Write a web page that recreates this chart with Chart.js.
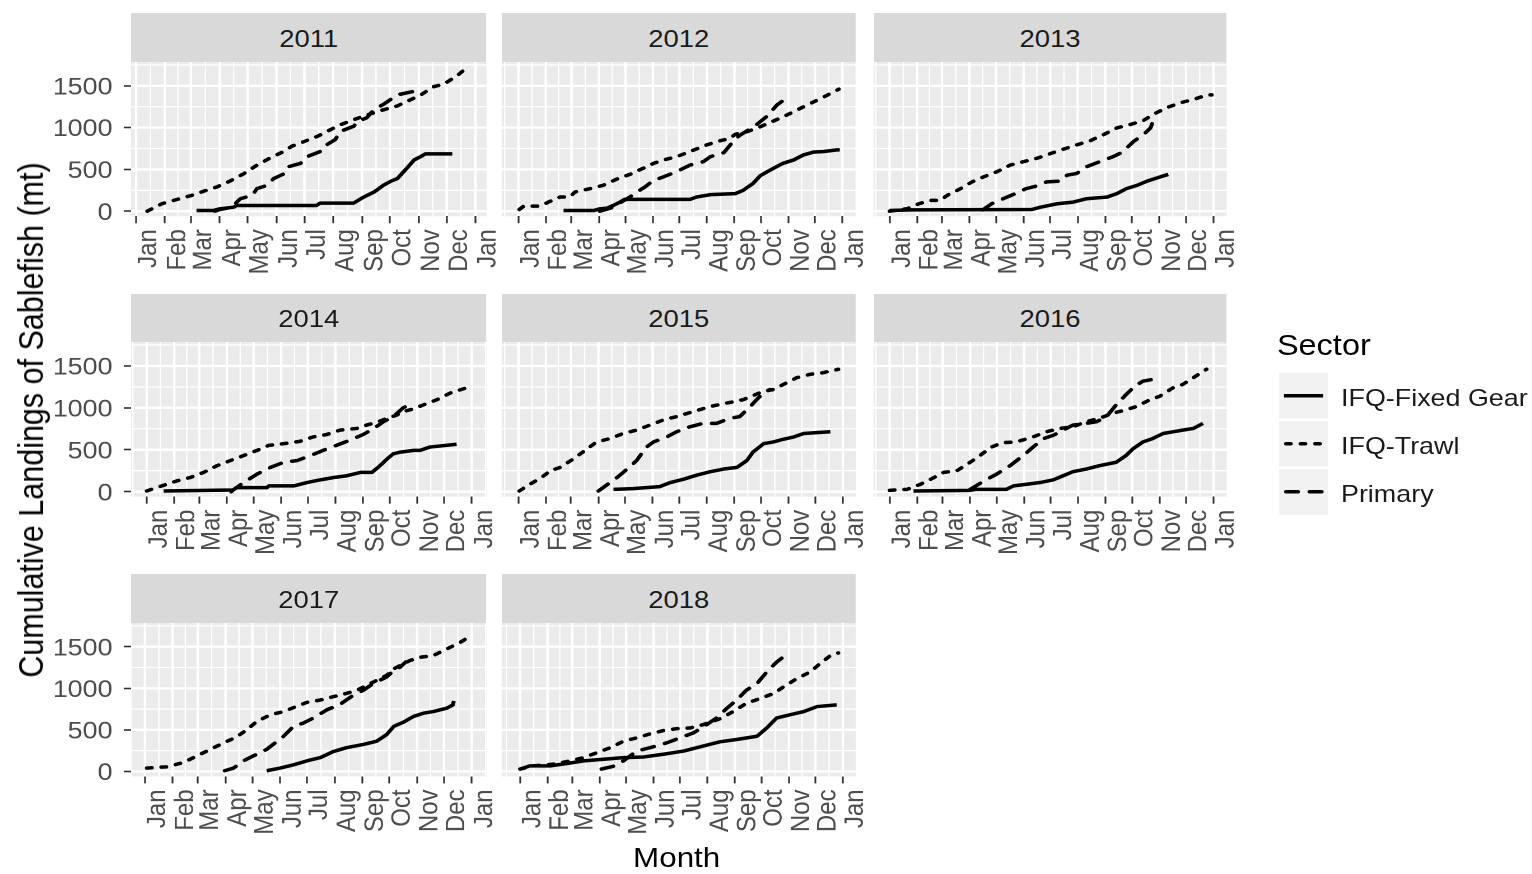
<!DOCTYPE html>
<html>
<head>
<meta charset="utf-8">
<title>Cumulative Landings of Sablefish</title>
<script src="https://cdn.jsdelivr.net/npm/chart.js@4.4.1/dist/chart.umd.min.js"></script>
<style>
  html, body { margin:0; padding:0; background:#FFFFFF; }
  body { width:1532px; height:874px; overflow:hidden; position:relative; }
  #stage { position:absolute; left:0; top:0; width:1367.86px; height:874px; transform:scaleX(1.12); transform-origin:0 0; font-family:'Liberation Sans', Arial, sans-serif; }
  .strip { position:absolute; background:#D9D9D9; }
  .lbl { position:absolute; white-space:nowrap; line-height:1; }
  canvas { position:absolute; }
</style>
</head>
<body>
<div id="stage"></div>
<script>
// ---------------- DATA ----------------
const years = [2011, 2012, 2013, 2014, 2015, 2016, 2017, 2018];
const sectors = ['IFQ-Fixed Gear', 'IFQ-Trawl', 'Primary'];
const monthLabels = ['Jan','Feb','Mar','Apr','May','Jun','Jul','Aug','Sep','Oct','Nov','Dec','Jan'];
const yTicks = [0, 500, 1000, 1500];
const yMinorTicks = [250, 750, 1250, 1750];

// [day of year, cumulative landings (mt)]
const fixedGear2011 = [[65,8],[83,8],[90,28],[105,48],[108,68],[194,68],[198,97],[234,97],[245,170],[256,230],[266,310],[274,359],[281,391],[291,512],[299,613],[306,653],[311,685],[340,685]];
const trawl2011 = [[12,0],[28,90],[44,140],[60,190],[73,240],[87,290],[101,360],[116,450],[130,550],[144,635],[157,705],[168,780],[180,830],[195,895],[209,975],[220,1035],[234,1095],[248,1150],[262,1200],[281,1260],[306,1390],[320,1490],[331,1520],[345,1620],[356,1720]];
const primary2011 = [[85,0],[90,20],[103,48],[112,149],[125,190],[130,270],[141,310],[148,391],[160,452],[164,532],[177,573],[184,653],[198,714],[202,774],[214,855],[220,956],[234,1016],[239,1077],[248,1117],[256,1218],[266,1278],[274,1339],[284,1399],[297,1430]];

const fixedGear2012 = [[51,8],[85,8],[92,28],[100,36],[107,68],[115,110],[120,141],[194,141],[201,169],[217,198],[245,210],[254,250],[265,331],[273,423],[281,472],[288,512],[299,573],[311,613],[322,673],[333,706],[345,714],[360,734],[363,734]];
const trawl2012 = [[1,20],[6,60],[24,60],[34,109],[47,169],[58,169],[64,230],[81,270],[96,310],[111,383],[126,440],[139,504],[153,573],[164,613],[179,653],[194,714],[213,794],[228,843],[239,870],[245,920],[258,950],[270,995],[292,1097],[303,1149],[320,1238],[334,1310],[348,1383],[362,1460]];
const primary2012 = [[92,0],[105,40],[118,120],[126,170],[134,230],[143,290],[153,371],[164,411],[178,470],[194,552],[209,593],[217,653],[232,700],[240,800],[249,900],[258,960],[269,1036],[281,1137],[292,1270],[301,1339]];

const fixedGear2013 = [[0,8],[25,15],[160,20],[170,48],[189,89],[207,109],[222,149],[245,169],[256,210],[267,270],[279,310],[290,359],[305,411],[314,440]];
const trawl2013 = [[0,0],[20,30],[33,89],[46,129],[57,129],[65,190],[80,270],[93,351],[106,411],[121,472],[136,552],[151,593],[166,633],[179,681],[196,742],[211,794],[226,843],[241,915],[256,996],[271,1036],[286,1085],[297,1157],[312,1238],[328,1298],[343,1339],[358,1391],[363,1391]];
const primary2013 = [[105,15],[115,89],[128,149],[139,198],[154,270],[165,300],[177,351],[192,359],[200,431],[211,452],[222,532],[237,593],[252,653],[260,694],[267,754],[275,835],[286,915],[294,996],[297,1077],[303,1137]];

const fixedGear2014 = [[19,8],[97,20],[101,48],[135,48],[137,69],[165,69],[180,109],[195,141],[210,169],[225,190],[240,230],[253,230],[262,310],[270,391],[277,452],[285,472],[300,492],[307,492],[318,532],[348,565]];
const trawl2014 = [[0,8],[17,69],[34,129],[49,169],[64,230],[79,310],[94,371],[109,431],[124,492],[137,552],[154,573],[172,600],[187,653],[202,681],[217,734],[236,754],[247,794],[258,826],[270,875],[281,915],[290,960],[300,990],[311,1036],[326,1097],[341,1177],[359,1238]];
const primary2014 = [[95,0],[97,20],[109,109],[124,210],[139,290],[154,351],[169,371],[184,431],[198,492],[213,552],[228,613],[243,681],[255,754],[266,835],[277,895],[288,1000],[290,1010]];

const fixedGear2015 = [[107,28],[129,36],[144,48],[159,60],[171,109],[186,149],[201,198],[216,238],[231,270],[246,290],[257,371],[264,472],[276,573],[287,593],[298,625],[310,653],[321,694],[351,714]];
const trawl2015 = [[1,8],[13,89],[26,169],[36,250],[47,290],[62,391],[75,492],[88,593],[103,633],[118,694],[133,734],[148,794],[163,855],[178,895],[197,956],[216,1016],[234,1056],[253,1097],[265,1150],[276,1198],[287,1218],[298,1278],[313,1359],[328,1399],[343,1419],[360,1460]];
const primary2015 = [[90,8],[98,69],[111,169],[118,230],[133,371],[144,532],[152,593],[167,653],[178,714],[193,774],[208,815],[223,815],[238,875],[249,895],[261,1016],[268,1097],[276,1177],[283,1218]];

const fixedGear2016 = [[27,8],[91,16],[98,28],[132,28],[140,69],[155,89],[170,109],[185,141],[196,190],[207,238],[222,270],[237,310],[256,351],[267,431],[275,512],[286,593],[297,633],[309,694],[320,714],[331,734],[343,754],[354,815]];
const trawl2016 = [[0,16],[20,28],[35,89],[48,157],[61,230],[76,250],[91,351],[102,431],[115,532],[128,585],[143,593],[162,653],[177,714],[192,754],[207,774],[222,835],[237,875],[252,935],[267,976],[279,1016],[294,1097],[305,1137],[320,1238],[331,1278],[343,1359],[358,1460]];
const primary2016 = [[91,28],[110,149],[121,210],[136,310],[151,431],[162,532],[174,633],[185,673],[196,734],[207,794],[222,815],[234,835],[245,895],[256,1036],[267,1157],[277,1258],[286,1318],[297,1339]];

const fixedGear2017 = [[136,8],[151,40],[166,79],[181,127],[196,166],[210,237],[225,285],[244,324],[259,364],[270,443],[278,542],[289,594],[300,661],[311,700],[322,720],[337,760],[344,800],[345,847]];
const trawl2017 = [[2,40],[24,55],[43,107],[58,186],[73,265],[88,344],[102,412],[114,503],[125,601],[140,681],[155,720],[166,768],[181,831],[196,859],[210,898],[225,938],[237,977],[248,1037],[259,1096],[270,1155],[278,1235],[296,1334],[307,1373],[322,1393],[337,1472],[352,1551],[361,1611]];
const primary2017 = [[89,8],[99,40],[110,127],[121,186],[136,265],[143,324],[153,404],[166,542],[177,582],[188,641],[203,740],[218,807],[233,918],[244,977],[255,1057],[270,1136],[278,1215],[285,1254],[291,1314]];

const fixedGear2018 = [[0,28],[11,67],[34,67],[53,95],[72,127],[117,166],[140,174],[162,206],[185,245],[207,305],[226,356],[245,384],[268,423],[279,522],[290,641],[305,681],[321,720],[336,780],[358,800]];
const trawl2018 = [[0,28],[15,67],[38,87],[57,127],[72,166],[87,226],[102,285],[117,364],[132,404],[147,451],[162,491],[177,514],[192,522],[207,562],[226,633],[241,720],[256,819],[272,879],[287,938],[298,1017],[313,1116],[328,1195],[339,1294],[351,1393],[360,1425]];
const primary2018 = [[92,28],[105,60],[117,127],[132,245],[147,285],[166,344],[181,404],[196,463],[211,562],[222,641],[234,760],[245,859],[256,977],[268,1057],[279,1195],[290,1314],[300,1393]];

const fixedGearByYear = [fixedGear2011, fixedGear2012, fixedGear2013, fixedGear2014, fixedGear2015, fixedGear2016, fixedGear2017, fixedGear2018];
const trawlByYear = [trawl2011, trawl2012, trawl2013, trawl2014, trawl2015, trawl2016, trawl2017, trawl2018];
const primaryByYear = [primary2011, primary2012, primary2013, primary2014, primary2015, primary2016, primary2017, primary2018];

// ---------------- LAYOUT ----------------
const S = 1.12;                         // horizontal stretch of the picture
const colL = [131, 501.7, 873.3], colR = [486.5, 855.7, 1226.7];
const rowT = [62.3, 342.3, 623.3], rowB = [216.5, 497, 776.7];
const stripT = [13, 293.5, 573.5];
const panelXLimits = [[-5.4, 376.8], [-18.75, 381.1], [-18, 380.2], [-17.6, 381.6], [-18.7, 379.6], [-18.1, 381.1], [-15.6, 381.5], [-20.7, 379.7]];
const yLimits = [-60, 1785];
const LW = 3.5;
const dashes = [[], [4.5, 8.5], [11, 10]];
const caps = ['butt', 'round', 'round'];

Chart.defaults.font.family = "'Liberation Sans', Arial, sans-serif";
const stage = document.getElementById('stage');

function monthStarts(year) {
  const leap = (year % 4 === 0);
  const len = [31, leap ? 29 : 28, 31, 30, 31, 30, 31, 31, 30, 31, 30, 31];
  const out = [0];
  for (const l of len) out.push(out[out.length - 1] + l);
  return out;
}

function addText(txt, opts) {
  const d = document.createElement('div');
  d.className = 'lbl';
  d.textContent = txt;
  d.style.fontSize = opts.size + 'px';
  d.style.color = opts.color || '#000000';
  d.style.left = opts.left + 'px';
  d.style.top = opts.top + 'px';
  if (opts.width !== undefined) { d.style.width = opts.width + 'px'; d.style.textAlign = 'center'; }
  if (opts.transform) d.style.transform = opts.transform;
  stage.appendChild(d);
  return d;
}

years.forEach((year, i) => {
  const row = Math.floor(i / 3), col = i % 3;
  const ms = monthStarts(year);
  const xMinor = [-15.5];
  for (let k = 0; k < 12; k++) xMinor.push((ms[k] + ms[k + 1]) / 2);
  xMinor.push(ms[12] + 15.5);

  // strip
  const sd = document.createElement('div');
  sd.className = 'strip';
  sd.style.left = (colL[col] / S) + 'px';
  sd.style.width = ((colR[col] - colL[col]) / S) + 'px';
  sd.style.top = stripT[row] + 'px';
  sd.style.height = (rowT[row] - stripT[row]) + 'px';
  stage.appendChild(sd);

  // canvas
  const leftRef = col === 0 ? 0 : colL[col];
  const yW = col === 0 ? colL[0] / S : 0;
  const panelWU = (colR[col] - leftRef) / S;
  const cw = Math.round(panelWU + 26);
  const padR = cw - panelWU;
  const ph = rowB[row] - rowT[row];
  const ch = Math.round(ph + 74);
  const xAxisH = ch - ph;
  const cv = document.createElement('canvas');
  cv.width = cw; cv.height = ch;
  cv.style.left = (leftRef / S) + 'px';
  cv.style.top = rowT[row] + 'px';
  stage.appendChild(cv);

  const panelBg = {
    id: 'panelBg' + i,
    beforeDraw(chart) {
      const {ctx, chartArea: a} = chart;
      const xs = chart.scales.x, ys = chart.scales.y;
      ctx.save();
      ctx.fillStyle = '#EBEBEB';
      ctx.fillRect(a.left, a.top, a.right - a.left, a.bottom - a.top);
      ctx.beginPath(); ctx.rect(a.left, a.top, a.right - a.left, a.bottom - a.top); ctx.clip();
      ctx.strokeStyle = '#FFFFFF';
      const drawSet = (vals, scale, horiz, w) => {
        ctx.lineWidth = w;
        for (const v of vals) {
          const p = scale.getPixelForValue(v);
          ctx.beginPath();
          if (horiz) { ctx.moveTo(a.left, p); ctx.lineTo(a.right, p); }
          else { ctx.moveTo(p, a.top); ctx.lineTo(p, a.bottom); }
          ctx.stroke();
        }
      };
      drawSet(yMinorTicks, ys, true, 1.3);
      drawSet(xMinor, xs, false, 1.2);
      drawSet(yTicks, ys, true, 2.4);
      drawSet(ms, xs, false, 2.2);
      ctx.restore();
    }
  };

  const series = [fixedGearByYear[i], trawlByYear[i], primaryByYear[i]];
  new Chart(cv, {
    type: 'line',
    data: {
      datasets: series.map((d, k) => ({
        label: sectors[k], data: d,
        borderColor: '#000000', backgroundColor: '#000000',
        borderWidth: LW, borderDash: dashes[k], borderCapStyle: caps[k], borderJoinStyle: 'round',
        pointRadius: 0, fill: false, tension: 0
      }))
    },
    options: {
      responsive: false, animation: false, events: [], devicePixelRatio: 2,
      layout: { padding: { left: 0, right: padR, top: 0, bottom: 0 } },
      plugins: { legend: { display: false }, tooltip: { enabled: false } },
      scales: {
        x: {
          type: 'linear', min: panelXLimits[i][0], max: panelXLimits[i][1],
          afterBuildTicks: s => { s.ticks = ms.map(v => ({ value: v })); },
          afterFit: s => { s.height = xAxisH; s.paddingLeft = 0; s.paddingRight = 0; },
          ticks: { autoSkip: false, minRotation: 90, maxRotation: 90, labelOffset: 11.5, padding: 6,
                   color: '#4D4D4D', font: { size: 24 }, callback: (v, idx) => monthLabels[idx] },
          grid: { display: true, drawOnChartArea: false, drawTicks: true, tickLength: 7, tickColor: '#333333', tickWidth: 1.6 },
          border: { display: false }
        },
        y: {
          type: 'linear', min: yLimits[0], max: yLimits[1], display: col === 0,
          afterBuildTicks: s => { s.ticks = yTicks.map(v => ({ value: v })); },
          afterFit: s => { s.width = yW; s.paddingTop = 0; s.paddingBottom = 0; },
          ticks: { padding: 10, labelOffset: 2, color: '#4D4D4D', font: { size: 24 }, callback: v => String(v) },
          grid: { display: true, drawOnChartArea: false, drawTicks: true, tickLength: 6.5, tickColor: '#333333', tickWidth: 1.6 },
          border: { display: false }
        }
      }
    },
    plugins: [panelBg]
  });

  // strip label
  addText(String(year), { size: 24.5, color: '#1A1A1A', left: colL[col] / S, width: (colR[col] - colL[col]) / S,
                          top: (rowT[row] - 22.8) - 12.25 });
});

// axis titles
addText('Cumulative Landings of Sablefish (mt)', { size: 30.5, left: 31 / S, top: 419.5,
  transform: 'translate(-50%, -50%) rotate(-90deg)' });
addText('Month', { size: 28, left: 676.7 / S, top: 858.3, transform: 'translate(-50%, -50%)' });

// legend
addText('Sector', { size: 29, left: 1276.9 / S, top: 345.8 - 14.5 });
const keyTops = [373.3, 421.3, 469.3], keyH = 45.5;
const keyL = 1279.3 / S, keyW = (1328.3 - 1279.3) / S;
const svgNS = 'http://www.w3.org/2000/svg';
const svg = document.createElementNS(svgNS, 'svg');
svg.setAttribute('width', keyW); svg.setAttribute('height', 150);
svg.style.position = 'absolute'; svg.style.left = keyL + 'px'; svg.style.top = keyTops[0] + 'px';
keyTops.forEach((t, k) => {
  const r = document.createElementNS(svgNS, 'rect');
  r.setAttribute('x', 0); r.setAttribute('y', t - keyTops[0]); r.setAttribute('width', keyW); r.setAttribute('height', keyH);
  r.setAttribute('fill', '#F2F2F2');
  svg.appendChild(r);
  const ln = document.createElementNS(svgNS, 'line');
  const cy = t - keyTops[0] + keyH / 2;
  ln.setAttribute('x1', keyW * 0.1 + (caps[k] === 'round' ? LW / 2 : 0)); ln.setAttribute('x2', keyW * 0.9);
  ln.setAttribute('y1', cy); ln.setAttribute('y2', cy);
  ln.setAttribute('stroke', '#000000'); ln.setAttribute('stroke-width', LW);
  ln.setAttribute('stroke-linecap', caps[k]);
  if (dashes[k].length) ln.setAttribute('stroke-dasharray', dashes[k].join(' '));
  svg.appendChild(ln);
});
stage.appendChild(svg);
const labelCenters = [397.8, 445.8, 493.5];
sectors.forEach((s, k) => addText(s, { size: 24, color: '#1A1A1A', left: 1341 / S, top: labelCenters[k] - 12 }));
</script>
</body>
</html>
